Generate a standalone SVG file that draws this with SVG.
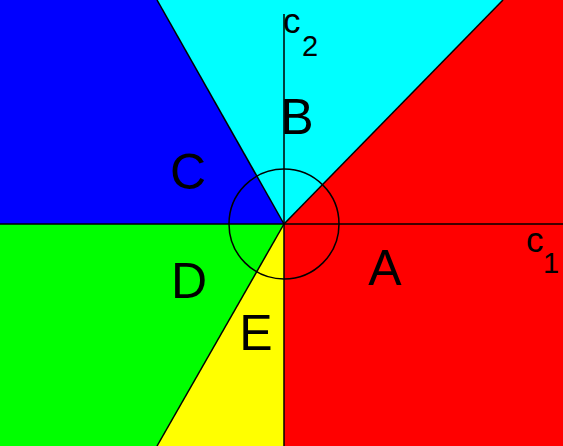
<svg xmlns="http://www.w3.org/2000/svg" width="563" height="446" viewBox="0 0 563 446">
<style>
.ln{stroke:#000;stroke-width:1.5;fill:none}
.lbl{font-family:"Liberation Sans",Arial,sans-serif;font-size:50px;fill:#000;text-anchor:middle}
.ax{font-family:"Liberation Sans",Arial,sans-serif;fill:#000}
</style>
<g id="regionA"><polygon points="284,224 503,0 563,0 563,446 284,446" fill="#ff0000"/></g>
<g id="regionB"><polygon points="284,224 157,0 503,0" fill="#00ffff"/></g>
<g id="regionC"><polygon points="284,224 0,224 0,0 157,0" fill="#0000ff"/></g>
<g id="regionD"><polygon points="284,224 157,446 0,446 0,224" fill="#00ff00"/></g>
<g id="regionE"><polygon points="284,224 284,446 157,446" fill="#ffff00"/></g>
<g id="connectors">
<line class="ln" x1="0" y1="224" x2="563" y2="224"/>
<line class="ln" x1="284" y1="14" x2="284" y2="446"/>
<line class="ln" x1="284" y1="224" x2="157" y2="0"/>
<line class="ln" x1="284" y1="224" x2="503" y2="0"/>
<line class="ln" x1="284" y1="224" x2="157" y2="446"/>
<circle class="ln" cx="284" cy="224" r="55"/>
</g>
<g id="labels">
<text class="lbl" x="297" y="134">B</text>
<text class="lbl" x="188" y="189">C</text>
<text class="lbl" x="189" y="298">D</text>
<text class="lbl" x="256" y="350">E</text>
<text class="lbl" x="385" y="285">A</text>
<text class="ax" x="283" y="33" font-size="35">c</text>
<text class="ax" x="302" y="56" font-size="29">2</text>
<text class="ax" x="526" y="252" font-size="35">c</text>
<text class="ax" x="543" y="273" font-size="29">1</text>
</g>
</svg>
